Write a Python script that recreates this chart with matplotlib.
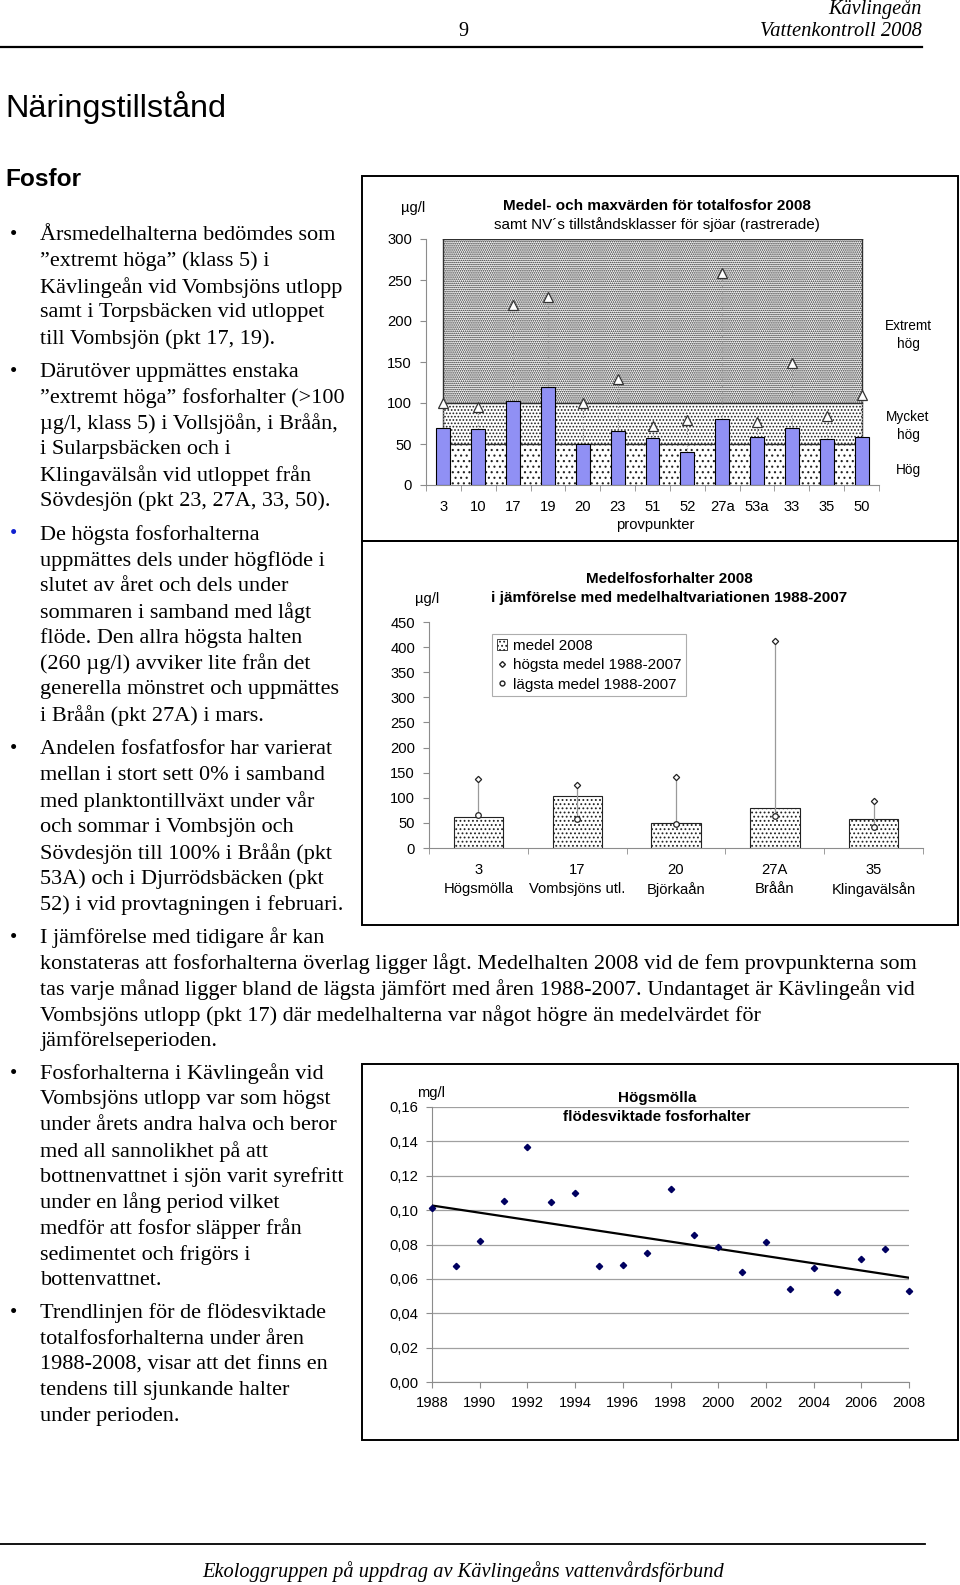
import matplotlib
matplotlib.use("Agg")
import matplotlib.pyplot as plt
import numpy as np
from matplotlib.patches import Rectangle, Patch
from matplotlib.lines import Line2D

W, H = 960, 1585

# --- diagram 1: medel- och maxvärden 2008 ---
punkter = ["3", "10", "17", "19", "20", "23", "51", "52", "27a", "53a", "33", "35", "50"]
medel_2008 = [69, 68, 103, 119, 50, 66, 57, 40, 80, 59, 69, 56, 59]
max_2008 = [100, 95, 220, 229, 100, 129, 72, 79, 259, 77, 149, 84, 110]
klass_grans = [50, 100, 300]          # Hög / Mycket hög / Extremt hög
klass_namn = ["Hög", "Mycket\nhög", "Extremt\nhög"]

# --- diagram 2: medel 2008 mot 1988-2007 ---
stationer = ["3\nHögsmölla", "17\nVombsjöns utl.", "20\nBjörkaån", "27A\nBråån", "35\nKlingavälsån"]
medel = [61, 103, 50, 80, 58]
hogsta = [137, 125, 141, 413, 93]
lagsta = [65, 58, 48, 63, 42]

# --- diagram 3: Högsmölla flödesviktade halter ---
ar = list(range(1988, 2009))
halt = [0.1015, 0.0675, 0.082, 0.1054, 0.1365, 0.105, 0.1098, 0.0677, 0.068, 0.0752,
        0.1122, 0.0857, 0.0785, 0.0642, 0.0813, 0.0539, 0.0663, 0.0523, 0.0716, 0.0776, 0.0531]

SERIF = "Liberation Serif"
SANS = "Liberation Sans"
plt.rcParams["font.family"] = SANS
plt.rcParams["hatch.linewidth"] = 0.8

fig = plt.figure(figsize=(W / 100, H / 100), dpi=100)


def txt(x, y, s, **kw):
    fig.text(x / W, 1 - y / H, s, **kw)


def axes_px(l, t, r, b):
    return fig.add_axes([l / W, 1 - b / H, (r - l) / W, (b - t) / H])


def hline(x0, x1, y, lw):
    fig.add_artist(Line2D([x0 / W, x1 / W], [1 - y / H, 1 - y / H], color="black", lw=lw,
                          transform=fig.transFigure))


def box(l, t, r, b):
    fig.add_artist(Rectangle((l / W, 1 - b / H), (r - l) / W, (b - t) / H, fill=False,
                             ec="black", lw=1.4, transform=fig.transFigure))


def style_axes(ax):
    for s in ["top", "right"]:
        ax.spines[s].set_visible(False)
    for s in ["left", "bottom"]:
        ax.spines[s].set_color("#8c8c8c")
    ax.tick_params(colors="#8c8c8c", labelcolor="black", labelsize=10.6, direction="out")


# header / footer
txt(922, 9, "Kävlingeån", family=SERIF, style="italic", fontsize=14.6, ha="right", va="center")
txt(463, 32, "9", family=SERIF, fontsize=14.6, ha="center", va="center")
txt(922, 32, "Vattenkontroll 2008", family=SERIF, style="italic", fontsize=14.8, ha="right", va="center")
hline(0, 922, 46.5, 1.6)
hline(0, 925, 1544, 1.3)
txt(463, 1572, "Ekologgruppen på uppdrag av Kävlingeåns vattenvårdsförbund", family=SERIF,
    style="italic", fontsize=14.7, ha="center", va="center")

txt(5, 108, "Näringstillstånd", family=SANS, fontsize=23.3, ha="left", va="center")
txt(5, 179, "Fosfor", family=SANS, weight="bold", fontsize=17.6, ha="left", va="center")

# body text, one list of lines per bullet
stycken = [
    (235.5, "black", ["Årsmedelhalterna bedömdes som", "”extremt höga” (klass 5) i",
                      "Kävlingeån vid Vombsjöns utlopp", "samt i Torpsbäcken vid utloppet",
                      "till Vombsjön (pkt 17, 19)."]),
    (372, "black", ["Därutöver uppmättes enstaka", "”extremt höga” fosforhalter (>100",
                    "µg/l, klass 5) i Vollsjöån, i Bråån,", "i Sularpsbäcken och i",
                    "Klingavälsån vid utloppet från", "Sövdesjön (pkt 23, 27A, 33, 50)."]),
    (535, "#1020d0", ["De högsta fosforhalterna", "uppmättes dels under högflöde i",
                      "slutet av året och dels under", "sommaren i samband med lågt",
                      "flöde. Den allra högsta halten", "(260 µg/l) avviker lite från det",
                      "generella mönstret och uppmättes", "i Bråån (pkt 27A) i mars."]),
    (750, "black", ["Andelen fosfatfosfor har varierat", "mellan i stort sett 0% i samband",
                    "med planktontillväxt under vår", "och sommar i Vombsjön och",
                    "Sövdesjön till 100% i Bråån (pkt", "53A) och i Djurrödsbäcken (pkt",
                    "52) i vid provtagningen i februari."]),
    (1074, "black", ["Fosforhalterna i Kävlingeån vid", "Vombsjöns utlopp var som högst",
                     "under årets andra halva och beror", "med all sannolikhet på att",
                     "bottnenvattnet i sjön varit syrefritt", "under en lång period vilket",
                     "medför att fosfor släpper från", "sedimentet och frigörs i",
                     "bottenvattnet."]),
    (1313.5, "black", ["Trendlinjen för de flödesviktade", "totalfosforhalterna under åren",
                       "1988-2008, visar att det finns en", "tendens till sjunkande halter",
                       "under perioden."]),
]
rad = 25.8
for y0, bcol, rader in stycken:
    txt(10, y0, "•", family=SERIF, fontsize=15, color=bcol, ha="left", va="center")
    for i, r in enumerate(rader):
        txt(40.5, y0 + i * rad, r, family=SERIF, fontsize=16, ha="left", va="center")

# wide paragraph under the charts
y0 = 938
txt(10, y0, "•", family=SERIF, fontsize=15, ha="left", va="center")
txt(40.5, y0, "I jämförelse med tidigare år kan", family=SERIF, fontsize=16, ha="left", va="center")
breda = ["konstateras att fosforhalterna överlag ligger lågt. Medelhalten 2008 vid de fem provpunkterna som",
         "tas varje månad ligger bland de lägsta jämfört med åren 1988-2007. Undantaget är Kävlingeån vid",
         "Vombsjöns utlopp (pkt 17) där medelhalterna var något högre än medelvärdet för",
         "jämförelseperioden."]
for i, r in enumerate(breda):
    txt(40.5, y0 + (i + 1) * rad, r, family=SERIF, fontsize=16, ha="left", va="center")

# frames around the charts
box(362, 176, 958, 541)
box(362, 541, 958, 925)
box(362, 1064, 958, 1440)

# ---------------- diagram 1 ----------------
ax1 = axes_px(426, 239, 879, 485)
x = np.arange(len(punkter))
monster = ["...", ".....", "........"]
lagre = 0
for g, m in zip(klass_grans, monster):
    ax1.fill_between(x, lagre, g, facecolor="white", edgecolor="#202020", hatch=m, lw=0, zorder=1)
    ax1.plot([x[0], x[-1]], [g, g], color="#303030", lw=1.0, zorder=2)
    lagre = g
ax1.plot([x[0], x[0]], [0, klass_grans[-1]], color="#303030", lw=1.0, zorder=2)
ax1.plot([x[-1], x[-1]], [0, klass_grans[-1]], color="#303030", lw=1.0, zorder=2)
ax1.vlines(x, medel_2008, max_2008, color="#9a9a9a", lw=0.8, linestyles=":", zorder=3)
ax1.bar(x, medel_2008, width=0.4, color="#9090f4", edgecolor="black", lw=0.8, zorder=4)
ax1.plot(x, max_2008, "^", ms=7, mfc="white", mec="#333333", mew=0.9, ls="none", zorder=5, clip_on=False)
ax1.set_xlim(-0.5, len(punkter) - 0.5)
ax1.set_ylim(0, 300)
ax1.set_yticks(range(0, 301, 50))
ax1.set_xticks(x)
ax1.set_xticklabels(punkter)
ax1.set_xticks(np.arange(-0.5, len(punkter), 1), minor=True)
style_axes(ax1)
ax1.tick_params(axis="x", which="major", length=0, pad=11)
ax1.tick_params(axis="x", which="minor", length=4, colors="#8c8c8c")
ax1.tick_params(axis="y", length=4, pad=6)
ax1.patch.set_alpha(0)

txt(413, 208, "µg/l", fontsize=10.6, ha="center", va="center")
txt(657, 206, "Medel- och maxvärden för totalfosfor 2008", fontsize=11, weight="bold", ha="center", va="center")
txt(657, 225, "samt NV´s tillståndsklasser för sjöar (rastrerade)", fontsize=11, ha="center", va="center")
txt(655, 525, "provpunkter", fontsize=10.6, ha="center", va="center")
for yy, namn in zip([470, 426, 335], klass_namn):
    txt(908, yy, namn, fontsize=9.8, ha="center", va="center", linespacing=1.35)

# ---------------- diagram 2 ----------------
ax2 = axes_px(429, 622, 923, 848)
x2 = np.arange(len(stationer))
ax2.bar(x2, medel, width=0.5, facecolor="white", edgecolor="#222222", hatch="....", lw=0.8, zorder=2)
ax2.vlines(x2, lagsta, hogsta, color="#9a9a9a", lw=0.9, zorder=3)
ax2.plot(x2, hogsta, "D", ms=3.2, mfc="white", mec="#222222", mew=0.9, ls="none", zorder=4)
ax2.plot(x2, lagsta, "o", ms=4, mfc="white", mec="#222222", mew=0.9, ls="none", zorder=4)
ax2.set_xlim(-0.5, len(stationer) - 0.5)
ax2.set_ylim(0, 450)
ax2.set_yticks(range(0, 451, 50))
ax2.set_xticks(x2)
ax2.set_xticklabels(stationer, linespacing=1.4)
ax2.set_xticks(np.arange(-0.5, len(stationer), 1), minor=True)
style_axes(ax2)
ax2.tick_params(axis="x", which="major", length=0, pad=11)
ax2.tick_params(axis="x", which="minor", length=4, colors="#8c8c8c")
ax2.tick_params(axis="y", length=4, pad=6)

handles = [Patch(facecolor="white", edgecolor="#222222", hatch="....", lw=0.6, label="medel 2008"),
           Line2D([], [], marker="D", ms=3, mfc="white", mec="#222222", ls="none", label="högsta medel 1988-2007"),
           Line2D([], [], marker="o", ms=3.5, mfc="white", mec="#222222", ls="none", label="lägsta medel 1988-2007")]
leg = ax2.legend(handles=handles, loc="upper left", bbox_to_anchor=(492 / W, 1 - 634 / H),
                 bbox_transform=fig.transFigure, fontsize=11, frameon=True, fancybox=False,
                 edgecolor="#999999", handlelength=0.7, handleheight=0.7, handletextpad=0.35,
                 borderpad=0.3, labelspacing=0.36, borderaxespad=0)
leg.get_frame().set_linewidth(0.8)

txt(427, 599, "µg/l", fontsize=10.6, ha="center", va="center")
txt(669, 579, "Medelfosforhalter 2008", fontsize=11, weight="bold", ha="center", va="center")
txt(669, 598, "i jämförelse med medelhaltvariationen 1988-2007", fontsize=11, weight="bold", ha="center", va="center")

# ---------------- diagram 3 ----------------
ax3 = axes_px(432, 1107, 909, 1382)
ax3.grid(axis="y", color="#a0a0a0", lw=0.9)
ax3.set_axisbelow(True)
ax3.plot(ar, halt, "D", ms=3.2, color="#000060", ls="none", zorder=4, clip_on=False)
k, m = np.polyfit(ar, halt, 1)
ax3.plot(ar, np.polyval([k, m], ar), color="black", lw=1.6, zorder=3)
ax3.set_xlim(1988, 2008)
ax3.set_ylim(0, 0.16)
ax3.set_xticks(range(1988, 2009, 2))
yt = np.arange(0, 0.161, 0.02)
ax3.set_yticks(yt)
ax3.set_yticklabels([f"{v:.2f}".replace(".", ",") for v in yt])
style_axes(ax3)
ax3.tick_params(axis="x", length=4, pad=6)
ax3.tick_params(axis="y", length=4, pad=6)

txt(431, 1093, "mg/l", fontsize=10.6, ha="center", va="center")
txt(657, 1098, "Högsmölla", fontsize=11, weight="bold", ha="center", va="center")
txt(657, 1117, "flödesviktade fosforhalter", fontsize=11, weight="bold", ha="center", va="center")

fig.savefig("out.png", dpi=100)
